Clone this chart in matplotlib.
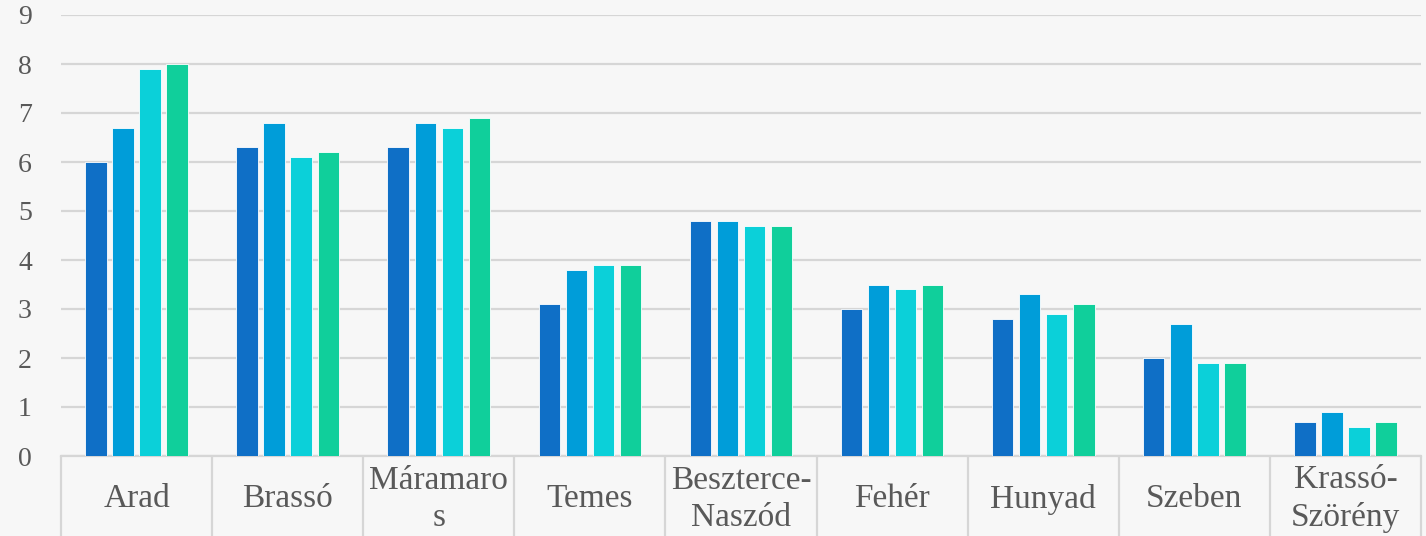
import matplotlib
matplotlib.use("Agg")
import matplotlib.pyplot as plt
import numpy as np

categories = ["Arad", "Brassó", "Máramaro\ns", "Temes", "Beszterce-\nNaszód",
              "Fehér", "Hunyad", "Szeben", "Krassó-\nSzörény"]
series1 = [6.0, 6.3, 6.3, 3.1, 4.8, 3.0, 2.8, 2.0, 0.7]
series2 = [6.7, 6.8, 6.8, 3.8, 4.8, 3.5, 3.3, 2.7, 0.9]
series3 = [7.9, 6.1, 6.7, 3.9, 4.7, 3.4, 2.9, 1.9, 0.6]
series4 = [8.0, 6.2, 6.9, 3.9, 4.7, 3.5, 3.1, 1.9, 0.7]
yticks = [0, 1, 2, 3, 4, 5, 6, 7, 8, 9]

colors = ["#0F6FC6", "#009DD9", "#0BD0D9", "#10CF9B"]
bg = "#F7F7F7"
grid_c = "#D6D6D6"
text_c = "#595959"
font = ["Liberation Serif", "DejaVu Serif"]

fig = plt.figure(figsize=(14.26, 5.36), dpi=100, facecolor=bg)
ax = fig.add_axes([61/1426, 1-456/536, (1421-61)/1426, (456-15)/536])
ax.set_facecolor(bg)

x = np.arange(len(categories))
slot = 0.179
bw = 0.142
for i, (vals, c) in enumerate(zip([series1, series2, series3, series4], colors)):
    ax.bar(x + (i - 1.5) * slot, vals, width=bw, color=c,
           edgecolor="white", linewidth=0.6, zorder=3)

ax.set_xlim(-0.5, len(categories) - 0.5)
ax.set_ylim(0, 9)
ax.set_yticks(yticks)
ax.set_yticklabels([str(v) for v in yticks], family=font, fontsize=20, color=text_c)
ax.yaxis.grid(True, color=grid_c, linewidth=1.6, zorder=0)
ax.tick_params(axis="y", length=0, pad=21)

ax.set_xticks(x)
ax.set_xticklabels(categories, family=font, fontsize=24, color=text_c,
                   linespacing=1.3)
for lbl in ax.get_xticklabels():
    lbl.set_va("center")
ax.tick_params(axis="x", which="major", length=0, pad=31)
ax.set_xticks(np.arange(len(categories) + 1) - 0.5, minor=True)
ax.tick_params(axis="x", which="minor", length=60, width=1.6, color=grid_c,
               direction="out")

for s in ["top", "left", "right"]:
    ax.spines[s].set_visible(False)
ax.spines["bottom"].set_color(grid_c)
ax.spines["bottom"].set_linewidth(1.6)

fig.savefig("out.png", dpi=100, facecolor=bg)
